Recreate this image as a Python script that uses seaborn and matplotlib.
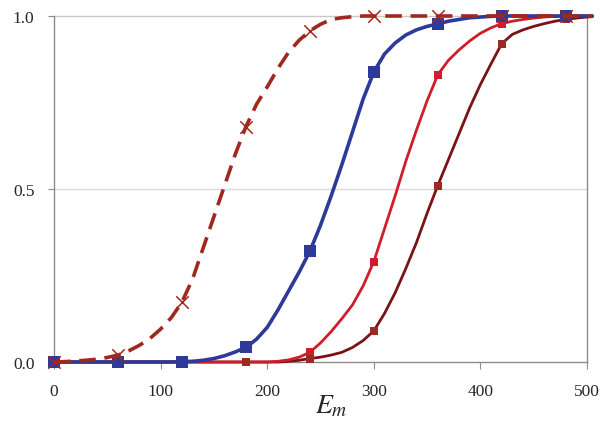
import matplotlib
matplotlib.use("Agg")
import matplotlib.pyplot as plt
import seaborn as sns

# ---- data ----
x_line = list(range(0, 501, 10)) + [505]
brown_line = [0, 0.001, 0.003, 0.005, 0.008, 0.013, 0.02, 0.032, 0.048, 0.068,
              0.095, 0.128, 0.173, 0.24, 0.33, 0.42, 0.51, 0.6, 0.68, 0.745,
              0.795, 0.848, 0.895, 0.93, 0.957, 0.976, 0.99, 0.995, 0.998, 1.0,
              1.0, 1.0, 1.0, 1.0, 1.0, 1.0, 1.0, 1.0, 1.0, 1.0,
              1.0, 1.0, 1.0, 1.0, 1.0, 1.0, 1.0, 1.0, 1.0, 1.0, 1.0, 1.0]
blue_line = [0, 0, 0, 0, 0, 0, 0, 0, 0, 0,
             0, 0, 0.001, 0.002, 0.005, 0.01, 0.018, 0.029, 0.042, 0.066,
             0.1, 0.15, 0.205, 0.26, 0.32, 0.395, 0.48, 0.57, 0.665, 0.76,
             0.838, 0.89, 0.922, 0.945, 0.96, 0.97, 0.977, 0.985, 0.99, 0.995,
             0.997, 0.999, 1.0, 1.0, 1.0, 1.0, 1.0, 1.0, 1.0, 1.0, 1.0, 1.0]
red_line = [0, 0, 0, 0, 0, 0, 0, 0, 0, 0,
            0, 0, 0, 0, 0, 0, 0, 0, 0, 0,
            0, 0.002, 0.006, 0.014, 0.028, 0.055, 0.088, 0.125, 0.165, 0.22,
            0.29, 0.385, 0.48, 0.58, 0.67, 0.755, 0.83, 0.872, 0.902, 0.928,
            0.95, 0.966, 0.978, 0.985, 0.99, 0.994, 0.997, 0.999, 1.0, 1.0, 1.0, 1.0]
darkred_line = [0, 0, 0, 0, 0, 0, 0, 0, 0, 0,
                0, 0, 0, 0, 0, 0, 0, 0, 0, 0,
                0, 0, 0.002, 0.005, 0.01, 0.014, 0.02, 0.028, 0.042, 0.062,
                0.09, 0.14, 0.2, 0.27, 0.345, 0.43, 0.51, 0.585, 0.66, 0.735,
                0.802, 0.862, 0.92, 0.947, 0.96, 0.97, 0.978, 0.985, 0.99, 0.994,
                0.997, 0.998]

x_mark = [0, 60, 120, 180, 240, 300, 360, 420, 480]
brown_mark = [0, 0.02, 0.173, 0.68, 0.957, 1.0, 1.0, 1.0, 1.0]
blue_mark = [0, 0, 0, 0.042, 0.32, 0.838, 0.977, 1.0, 1.0]
red_mark = [0, 0, 0, 0, 0.028, 0.29, 0.83, 0.978, 1.0]
darkred_mark = [0, 0, 0, 0, 0.01, 0.09, 0.51, 0.92, 0.99]

x_ticks = [0, 100, 200, 300, 400, 500]
y_ticks = [0.0, 0.5, 1.0]
y_tick_labels = ["0.0", "0.5", "1.0"]
x_label = "$E_m$"

# ---- style ----
sns.set_style("white")
plt.rcParams['font.family'] = ['Liberation Serif', 'DejaVu Serif']
plt.rcParams['mathtext.fontset'] = 'stix'

fig = plt.figure(figsize=(6.03, 4.27), dpi=100)
ax = fig.add_axes([54/603, 1-363/427, (587-54)/603, (363-17)/427])

c_blue = "#2E3A98"
c_red = "#D01C2B"
c_dline = "#7A1318"
c_dmark = "#9B2A20"
c_brown = "#A0281C"

ax.axhline(0.5, color="#D9D9D9", lw=1.0, zorder=0)
ax.axhline(1.0, color="#C8C8C8", lw=1.0, zorder=0)

sns.lineplot(x=x_line, y=darkred_line, ax=ax, color=c_dline, lw=2.0, zorder=3)
sns.lineplot(x=x_line, y=red_line, ax=ax, color=c_red, lw=2.0, zorder=3)
sns.lineplot(x=x_line, y=blue_line, ax=ax, color=c_blue, lw=2.6, zorder=4)
sns.lineplot(x=x_line, y=brown_line, ax=ax, color=c_brown, lw=2.6,
             linestyle=(0, (4.6, 2.4)), zorder=6)

sns.scatterplot(x=x_mark, y=red_mark, ax=ax, color=c_red, marker="s", s=40,
                linewidth=0, zorder=5)
sns.scatterplot(x=x_mark, y=darkred_mark, ax=ax, color=c_dmark, marker="s", s=40,
                linewidth=0, zorder=5)
sns.scatterplot(x=x_mark, y=blue_mark, ax=ax, color=c_blue, marker="s", s=85,
                linewidth=0, zorder=5)
sns.scatterplot(x=x_mark, y=brown_mark, ax=ax, color=c_brown, marker="x", s=80,
                linewidth=1.1, zorder=7)

for ln in ax.lines + ax.collections:
    ln.set_clip_on(False)

ax.set_xlim(0, 500)
ax.set_ylim(0, 1)
ax.set_xticks(x_ticks)
ax.set_xticklabels([str(t) for t in x_ticks])
ax.set_yticks(y_ticks)
ax.set_yticklabels(y_tick_labels)

for s in ["left", "bottom", "right"]:
    ax.spines[s].set_color("#8C8C8C")
    ax.spines[s].set_linewidth(1.0)
ax.spines["top"].set_visible(False)

ax.tick_params(axis="x", direction="out", length=5, width=0.8, color="#8C8C8C",
               labelsize=12.5, pad=10, bottom=True)
ax.tick_params(axis="y", direction="out", length=4, width=0.8, color="#8C8C8C",
               labelsize=12.5, pad=10, left=True)

ax.set_xlabel(x_label, fontsize=20)
ax.xaxis.set_label_coords((331-54)/533, -0.09)
ax.set_ylabel("")

fig.savefig("out.png", dpi=100)
